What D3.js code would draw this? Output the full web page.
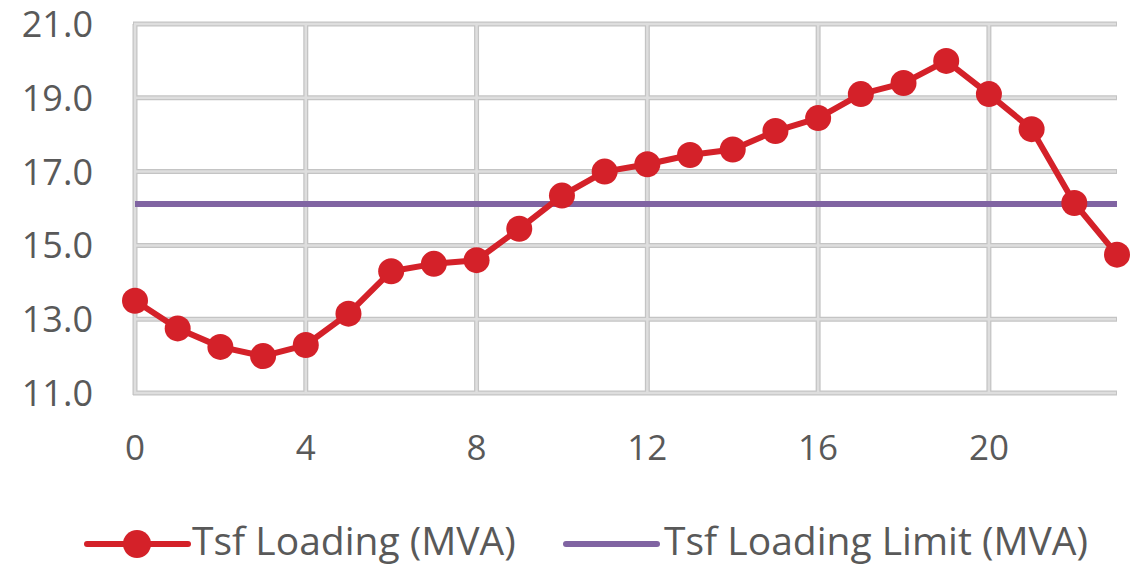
<!DOCTYPE html>
<html><head><meta charset="utf-8">
<script src="https://cdn.jsdelivr.net/npm/d3@7"></script>
<style>body{margin:0;background:#fff;} svg{display:block;} text{font-family:"Open Sans",Lato,sans-serif;fill:#595959;}</style>
</head><body>
<svg id="c" width="1130" height="567"></svg>
<script>
const hours = d3.range(0, 24);
const loading = [13.5,12.75,12.25,12.0,12.3,13.15,14.3,14.5,14.6,15.45,16.35,17.0,17.2,17.45,17.6,18.1,18.45,19.1,19.4,20.0,19.1,18.15,16.15,14.75];
const limit = 16.12;
const xTicks = [0,4,8,12,16,20];
const yTicks = [11,13,15,17,19,21];
const seriesNames = ["Tsf Loading (MVA)","Tsf Loading Limit (MVA)"];
const colors = {load:"#d42129", limit:"#8064a2"};

const svg = d3.select("#c");
const x = d3.scaleLinear().domain([0,23]).range([135,1117]);
const y = d3.scaleLinear().domain([11,21]).range([393,24]);

const grid = svg.append("g");
grid.selectAll(".h").data(yTicks).join("line")
  .attr("x1",x(0)-2).attr("x2",x(23)).attr("y1",d=>y(d)).attr("y2",d=>y(d))
  .attr("stroke","#c4c4c4").attr("stroke-width",5);
grid.selectAll(".v").data(xTicks).join("line")
  .attr("y1",y(11)+2).attr("y2",y(21)).attr("x1",d=>x(d)).attr("x2",d=>x(d))
  .attr("stroke","#c4c4c4").attr("stroke-width",5);
grid.selectAll(".h2").data(yTicks).join("line")
  .attr("x1",x(0)-1).attr("x2",x(23)-1).attr("y1",d=>y(d)).attr("y2",d=>y(d))
  .attr("stroke","#dedede").attr("stroke-width",2.5);
grid.selectAll(".v2").data(xTicks).join("line")
  .attr("y1",y(11)+1).attr("y2",y(21)+1).attr("x1",d=>x(d)).attr("x2",d=>x(d))
  .attr("stroke","#dedede").attr("stroke-width",2.5);

svg.append("g").selectAll("text").data(yTicks).join("text")
  .attr("x",93).attr("y",d=>y(d)).attr("dy","0.36em").attr("text-anchor","end")
  .attr("font-size",36).text(d=>d.toFixed(1));
svg.append("g").selectAll("text").data(xTicks).join("text")
  .attr("x",d=>x(d)).attr("y",460).attr("text-anchor","middle")
  .attr("font-size",35).text(d=>d);

svg.append("line").attr("x1",x(0)).attr("x2",x(23)).attr("y1",y(limit)).attr("y2",y(limit))
  .attr("stroke",colors.limit).attr("stroke-width",6);

const line = d3.line().x((d,i)=>x(hours[i])).y(d=>y(d));
svg.append("path").datum(loading).attr("d",line).attr("fill","none")
  .attr("stroke",colors.load).attr("stroke-width",6).attr("stroke-linejoin","round");
svg.append("g").selectAll("circle").data(loading).join("circle")
  .attr("cx",(d,i)=>x(hours[i])).attr("cy",d=>y(d)).attr("r",13).attr("fill",colors.load);

const lg = svg.append("g");
lg.append("line").attr("x1",87).attr("x2",188).attr("y1",544).attr("y2",544).attr("stroke",colors.load).attr("stroke-width",6).attr("stroke-linecap","round");
lg.append("circle").attr("cx",137).attr("cy",544).attr("r",14).attr("fill",colors.load);
lg.append("text").attr("x",192).attr("y",555).attr("font-size",39).text(seriesNames[0]);
lg.append("line").attr("x1",566).attr("x2",657).attr("y1",544).attr("y2",544).attr("stroke",colors.limit).attr("stroke-width",6).attr("stroke-linecap","round");
lg.append("text").attr("x",664).attr("y",555).attr("font-size",39).text(seriesNames[1]);
</script>
</body></html>
